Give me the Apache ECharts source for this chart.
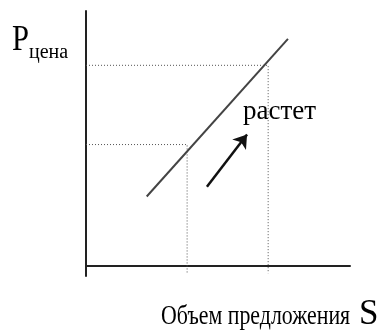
<!DOCTYPE html>
<html>
<head>
<meta charset="utf-8">
<script src="https://cdn.jsdelivr.net/npm/echarts@6/dist/echarts.min.js"></script>
<style>
  html, body { margin: 0; padding: 0; background: #fff; }
  #chart { width: 383px; height: 331px; }
</style>
</head>
<body>
<div id="chart"></div>
<script>
// кривая предложения: объем и цена на концах
var curveQ = [2.3, 7.65];
var curveP = [2.6, 8.55];
// две точки на кривой (пунктирные проекции)
var guideQ = [3.83, 6.9];
var guideP = [4.56, 7.55];
// стрелка "растет"
var arrowQ = [4.58, 6.1];
var arrowP = [2.97, 4.94];

var chart = echarts.init(document.getElementById('chart'));

var serif = 'Liberation Serif';

// пунктир: от оси цен к точке и вниз за ось объема
var guideSeries = guideQ.map(function (q, i) {
  return {
    type: 'line',
    symbol: 'none',
    silent: true,
    lineStyle: { color: '#555', width: 1, type: [1, 2] },
    data: [[0, guideP[i]], [q, guideP[i]], [q, -0.3]],
    z: 1
  };
});

var option = {
  animation: false,
  grid: { left: 86, right: 33, top: 11, bottom: 55 },
  xAxis: {
    type: 'value', min: 0, max: 10,
    axisLine: { onZero: true, lineStyle: { color: '#222', width: 2 } },
    axisTick: { show: false }, axisLabel: { show: false }, splitLine: { show: false }
  },
  yAxis: {
    type: 'value', min: -0.4, max: 9.6,
    axisLine: { show: true, onZero: true, lineStyle: { color: '#222', width: 2 } },
    axisTick: { show: false }, axisLabel: { show: false }, splitLine: { show: false }
  },
  series: guideSeries.concat([
    {
      type: 'line',
      symbol: 'none',
      lineStyle: { color: '#444', width: 2 },
      data: curveQ.map(function (q, i) { return [q, curveP[i]]; }),
      z: 3
    },
    {
      type: 'lines',
      coordinateSystem: 'cartesian2d',
      symbol: ['none', 'arrow'],
      symbolSize: 13,
      lineStyle: { color: '#111', width: 2.5, opacity: 1 },
      data: [{ coords: [[arrowQ[0], arrowP[0]], [arrowQ[1], arrowP[1]]] }],
      z: 3
    }
  ]),
  graphic: [
    { type: 'text', x: 12, y: 41, scaleX: 0.85, style: { text: 'P', font: '36px ' + serif, fill: '#000', verticalAlign: 'middle' } },
    { type: 'text', x: 29, y: 53, style: { text: 'цена', font: '20px ' + serif, fill: '#000', verticalAlign: 'middle' } },
    { type: 'text', x: 243, y: 112, style: { text: 'растет', font: '27px ' + serif, fill: '#000', verticalAlign: 'middle' } },
    { type: 'text', x: 161, y: 317, scaleX: 0.81, style: { text: 'Объем предложения', font: '27px ' + serif, fill: '#000', verticalAlign: 'middle' } },
    { type: 'text', x: 359, y: 315, style: { text: 'S', font: '35px ' + serif, fill: '#000', verticalAlign: 'middle' } }
  ]
};

chart.setOption(option);
</script>
</body>
</html>
